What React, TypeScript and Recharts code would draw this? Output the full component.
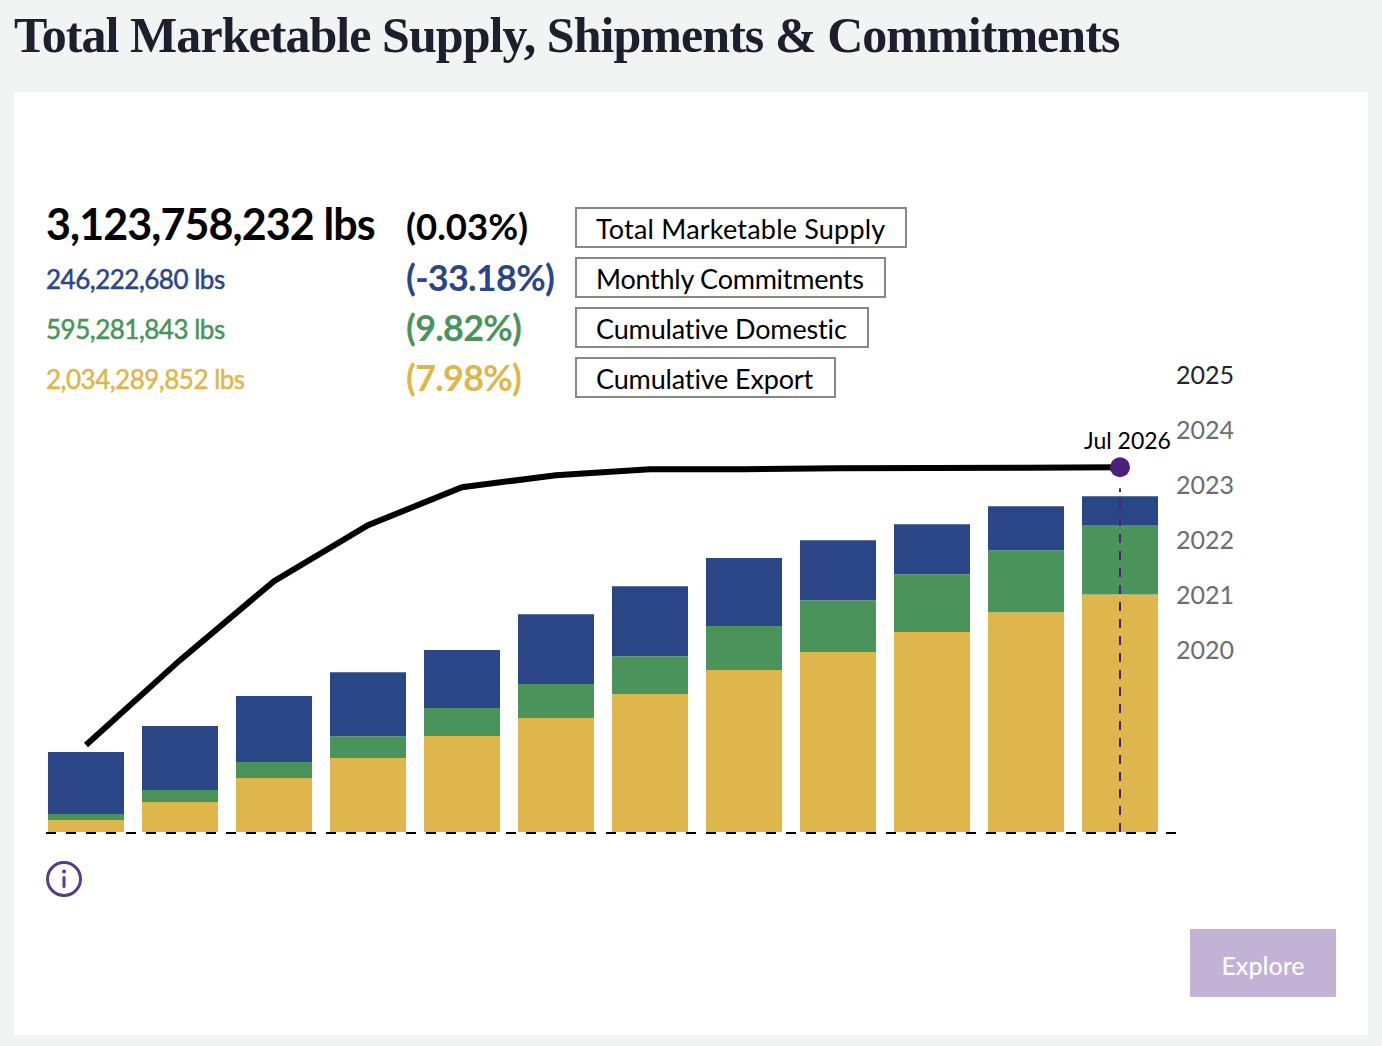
import { ComposedChart, Bar, Line, XAxis, YAxis, ReferenceDot, ReferenceLine, Label } from 'recharts';

// all values in millions of lbs
const months = ['Aug 2025', 'Sep 2025', 'Oct 2025', 'Nov 2025', 'Dec 2025', 'Jan 2026', 'Feb 2026', 'Mar 2026', 'Apr 2026', 'May 2026', 'Jun 2026', 'Jul 2026'];
const exportValues = [103, 257, 462, 633, 822, 976, 1181, 1387, 1541, 1712, 1883, 2034.29];
const domesticValues = [51, 103, 137, 188, 240, 291, 325, 377, 445, 496, 531, 595.28];
const commitmentValues = [531, 548, 565, 548, 496, 599, 599, 582, 514, 428, 377, 246.22];
const supplyValues = [745, 1472, 2149, 2628, 2953, 3056, 3107, 3107, 3116, 3118, 3120, 3123.76];

const years = ['2025', '2024', '2023', '2022', '2021', '2020'];
const rowAmounts = ['3,123,758,232 lbs', '246,222,680 lbs', '595,281,843 lbs', '2,034,289,852 lbs'];
const rowChanges = ['(0.03%)', '(-33.18%)', '(9.82%)', '(7.98%)'];
const rowNames = ['Total Marketable Supply', 'Monthly Commitments', 'Cumulative Domestic', 'Cumulative Export'];
const rowColors = ['#000000', '#2b4687', '#4a945b', '#deb64b'];
const boxWidths = [328, 307, 290, 257];
const nameSpacing = [0.2, -0.25, -0.15, -0.15];

const chartData = months.map((month, i) => ({
    month,
    exportLbs: exportValues[i],
    domestic: domesticValues[i],
    commitments: commitmentValues[i],
    supply: supplyValues[i],
}));

const sans = 'Lato, sans-serif';
const purple = '#4a2079';

function App() {
    return (
        <div style={{ position: 'absolute', left: 0, top: 0, width: 1382, height: 1046, background: '#f1f4f3', overflow: 'hidden', fontFamily: sans }}>
            <div style={{ position: 'absolute', left: 14, top: 5, fontFamily: '"Liberation Serif", serif', fontWeight: 700, fontSize: 50, letterSpacing: -0.95, lineHeight: '60px', color: '#1e1e2c', whiteSpace: 'nowrap' }}>
                Total Marketable Supply, Shipments &amp; Commitments
            </div>
            <div style={{ position: 'absolute', left: 14, top: 92, width: 1354, height: 943, background: '#fff' }} />

            <div style={{ position: 'absolute', left: 0, top: 0 }}>
                <ComposedChart width={1382} height={1046} data={chartData} barSize={76} margin={{ top: 365, right: 206, left: 46, bottom: 212 }}>
                    <XAxis dataKey="month" height={1} tick={false} tickLine={false} padding={{ left: -7, right: 9 }} axisLine={{ stroke: '#000', strokeWidth: 2, strokeDasharray: '10 10' }} />
                    <YAxis hide domain={[0, 4000]} padding={{ bottom: 1 }} />
                    <Bar dataKey="exportLbs" stackId="a" fill="#deb64b" isAnimationActive={false} />
                    <Bar dataKey="domestic" stackId="a" fill="#4a945b" isAnimationActive={false} />
                    <Bar dataKey="commitments" stackId="a" fill="#2b4687" isAnimationActive={false} />
                    <Line dataKey="supply" type="linear" stroke="#000" strokeWidth={6} dot={false} activeDot={false} isAnimationActive={false} />
                    <ReferenceLine segment={[{ x: 'Jul 2026', y: 0 }, { x: 'Jul 2026', y: 2945 }]} stroke={purple} strokeWidth={2} strokeDasharray="9 8" />
                    <ReferenceDot x="Jul 2026" y={3123.76} r={10} fill={purple} stroke="none">
                        <Label value="Jul 2026" position="top" offset={8} dx={7.5} style={{ fontFamily: sans, fontSize: 23, fill: '#000' }} />
                    </ReferenceDot>
                </ComposedChart>
            </div>

            {rowAmounts.map((amount, i) => (
                <div key={amount} style={{ position: 'absolute', left: 46, top: i === 0 ? 198 : 204 + i * 50, lineHeight: i === 0 ? '52px' : '50px', height: 50, fontSize: i === 0 ? 43 : 26, letterSpacing: i === 0 ? -0.9 : -0.5, fontWeight: i === 0 ? 700 : 400, WebkitTextStroke: i === 0 ? undefined : '0.5px', color: rowColors[i], whiteSpace: 'nowrap' }}>
                    {amount}
                </div>
            ))}
            {rowChanges.map((change, i) => (
                <div key={change} style={{ position: 'absolute', left: 406, top: (i === 0 ? 201 : 202) + i * 50, lineHeight: '50px', fontSize: i === 0 ? 36.5 : 36, letterSpacing: i === 0 ? 0 : -0.75, fontWeight: 700, color: rowColors[i], whiteSpace: 'nowrap' }}>
                    {change}
                </div>
            ))}
            {rowNames.map((name, i) => (
                <div key={name} style={{ position: 'absolute', left: 575, top: 207 + i * 50, width: boxWidths[i], height: 37, border: '2px solid #888', boxSizing: 'content-box', lineHeight: '40px', whiteSpace: 'nowrap', fontSize: 27, letterSpacing: nameSpacing[i], color: '#000', textIndent: 19 }}>
                    {name}
                </div>
            ))}
            {years.map((year, i) => (
                <div key={year} style={{ position: 'absolute', left: 1176, top: 359 + i * 55, lineHeight: '30px', fontSize: 25, color: i === 0 ? '#22252a' : '#6b6e72' }}>
                    {year}
                </div>
            ))}

            <svg style={{ position: 'absolute', left: 44, top: 859 }} width={40} height={40}>
                <circle cx={20} cy={20} r={16.5} fill="none" stroke="#5a3a8a" strokeWidth={3} />
                <circle cx={20} cy={12.5} r={2} fill="#5a3a8a" />
                <rect x={18.5} y={17} width={3} height={12} rx={1.5} fill="#5a3a8a" />
            </svg>

            <div style={{ position: 'absolute', left: 1190, top: 929, width: 146, height: 68, background: '#c1b2d6', color: '#fff', fontSize: 25, lineHeight: '72px', textAlign: 'center', fontWeight: 500 }}>
                Explore
            </div>
        </div>
    );
}

export default App;
